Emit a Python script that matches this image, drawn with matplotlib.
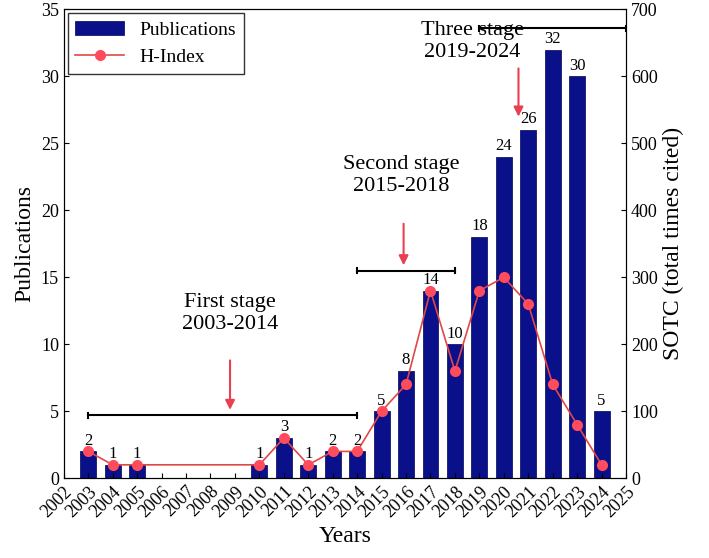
import numpy as np
import matplotlib.pyplot as plt

plt.rcParams["font.family"] = "Liberation Serif"

years = [2003, 2004, 2005, 2010, 2011, 2012, 2013, 2014, 2015, 2016, 2017,
         2018, 2019, 2020, 2021, 2022, 2023, 2024]
pubs = [2, 1, 1, 1, 3, 1, 2, 2, 5, 8, 14, 10, 18, 24, 26, 32, 30, 5]
hindex = [40, 20, 20, 20, 60, 20, 40, 40, 100, 140, 280, 160, 280, 300, 260,
          140, 80, 20]
tick_years = list(range(2002, 2026))

fig = plt.figure(figsize=(7.09, 5.58), dpi=100)
ax = fig.add_axes([0.09, 0.143, 0.793, 0.84])
ax2 = ax.twinx()

ax.bar(years, pubs, width=0.65, color="#0a0f8a", edgecolor="#000050",
       linewidth=0.5, label="Publications")
for x, v in zip(years, pubs):
    ax.text(x, v + 0.2, str(v), ha="center", va="bottom", fontsize=12)

ax2.plot(years, hindex, color="#e04848", marker="o", markersize=7,
         markerfacecolor="#ff4c5c", markeredgecolor="#ff4c5c", lw=1.2,
         label="H-Index")

ax.set_xlim(2002, 2025)
ax.set_ylim(0, 35)
ax2.set_ylim(0, 700)
ax.set_xticks(tick_years)
ax.set_xticklabels([str(y) for y in tick_years], rotation=45, ha="right",
                   rotation_mode="anchor", fontsize=11)
ax.set_yticks(range(0, 36, 5))
ax2.set_yticks(range(0, 701, 100))
ax.tick_params(labelsize=13, direction="in")
ax2.tick_params(labelsize=13, direction="in")
ax.set_xlabel("Years", fontsize=17)
ax.set_ylabel("Publications", fontsize=17)
ax2.set_ylabel("SOTC (total times cited)", fontsize=17)

def bracket(x0, x1, y, tx, ty, text, ay0, ay1, ax_x):
    ax.plot([x0, x1], [y, y], color="black", lw=1.5)
    ax.plot([x0, x0], [y - 0.2, y + 0.2], color="black", lw=1.5)
    ax.plot([x1, x1], [y - 0.2, y + 0.2], color="black", lw=1.5)
    ax.annotate("", xy=(ax_x, ay1), xytext=(ax_x, ay0),
                arrowprops=dict(arrowstyle="-|>", color="#e84050", lw=1.5,
                                shrinkA=0, shrinkB=0, mutation_scale=14))
    ax.text(tx, ty, text, ha="center", va="center", fontsize=16,
            linespacing=1.2)

bracket(2003, 2014, 4.7, 2008.8, 12.3, "First stage\n2003-2014", 8.8, 5.1, 2008.8)
bracket(2014, 2018, 15.5, 2015.8, 22.6, "Second stage\n2015-2018", 19.0, 15.9, 2015.9)
bracket(2019, 2025, 33.6, 2018.7, 32.6, "Three stage\n2019-2024", 30.6, 27.0, 2020.6)

h1, l1 = ax.get_legend_handles_labels()
h2, l2 = ax2.get_legend_handles_labels()
ax.legend(h1 + h2, l1 + l2, loc="upper left", fontsize=14, frameon=True,
          fancybox=False, edgecolor="black", borderaxespad=0.2, handlelength=2.5)

fig.savefig("out.png", dpi=100)
